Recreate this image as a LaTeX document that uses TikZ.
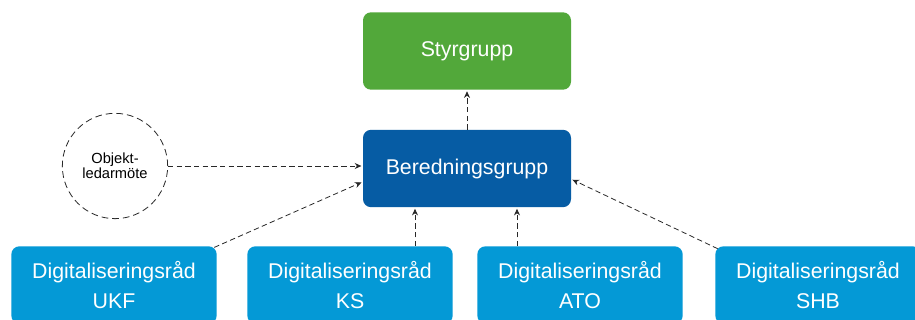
\documentclass[tikz,border=0pt]{standalone}
\usepackage{fontspec}
\setmainfont{Liberation Sans}
\usepackage{tikz}
\usetikzlibrary{arrows.meta,positioning,shapes.geometric}

\definecolor{styrgreen}{RGB}{82,168,58}
\definecolor{beredblue}{RGB}{6,92,164}
\definecolor{radblue}{RGB}{4,153,214}
\definecolor{linegray}{RGB}{40,40,40}

\begin{document}
\begin{tikzpicture}[
x=0.75pt, y=-0.75pt,
font=\fontsize{16}{22.5}\selectfont,
groupbox/.style={rectangle, rounded corners=6pt, draw=none, text=white, minimum width=156pt, minimum height=58pt, align=center},
radbox/.style={rectangle, rounded corners=6pt, draw=none, fill=radblue, text=white, minimum width=154pt, minimum height=58pt, align=center},
meeting/.style={circle, draw=linegray, dash pattern=on 5pt off 3pt, line width=0.6pt, minimum size=79pt, inner sep=0pt, align=center, font=\fontsize{11}{11.5}\selectfont},
oneway/.style={-{Stealth[length=5pt,width=4.5pt]}, draw=linegray, dash pattern=on 4pt off 2.5pt, line width=0.6pt, shorten >=1pt}
]
    % Canvas
    \useasboundingbox (0,0) rectangle (915,320);
    \clip (0,0) rectangle (915,320);
    \fill[white] (0,0) rectangle (915,320);

    % Groups
    \node[groupbox, fill=styrgreen] (styr) at (467,51) {Styrgrupp};
    \node[groupbox, fill=beredblue] (bered) at (467,168.5) {Beredningsgrupp};
    \node[meeting] (objekt) at (115,166) {Objekt-\\ledarmöte};

    % Digitaliseringsråd
    \node[radbox] (ukf) at (114,285) {Digitaliseringsråd\\UKF};
    \node[radbox] (ks) at (350,285) {Digitaliseringsråd\\KS};
    \node[radbox] (ato) at (580,285) {Digitaliseringsråd\\ATO};
    \node[radbox] (shb) at (818,285) {Digitaliseringsråd\\SHB};

    \coordinate (kshead) at ([xshift=-39pt]bered.south);
    \coordinate (atohead) at ([xshift=37.5pt]bered.south);

    % Arrows
    \draw[oneway] (bered.north) -- (styr.south);
    \draw[oneway] (objekt.east) -- (objekt.east -| bered.west);
    \draw[oneway] ([xshift=-2pt,yshift=-1pt]ukf.north east) -- ([yshift=-10pt]bered.west);
    \draw[oneway] (ks.north -| kshead) -- (kshead);
    \draw[oneway] (ato.north -| atohead) -- (atohead);
    \draw[oneway] ([xshift=2pt,yshift=-2pt]shb.north west) -- ([yshift=-8pt]bered.east);

\end{tikzpicture}
\end{document}
